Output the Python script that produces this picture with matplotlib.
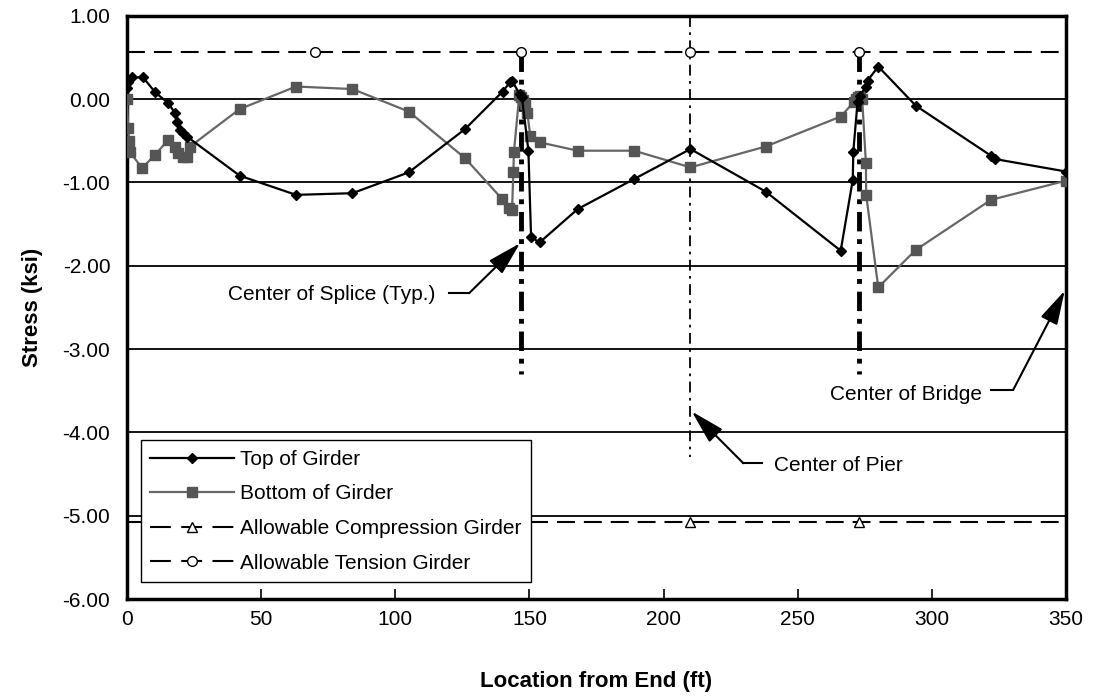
# girder stress along the bridge
import numpy as np
import matplotlib.pyplot as plt
from matplotlib.lines import Line2D
from matplotlib.ticker import FormatStrFormatter

plt.rcParams['font.family'] = ['Liberation Sans', 'DejaVu Sans']
plt.rcParams['axes.unicode_minus'] = False

# data (ft, ksi)
top_x = [0, 0.5, 2, 6, 10.5, 15.4, 17.9, 18.5, 19.8, 21, 22.3, 42, 63, 84, 105, 126,
         140, 142.7, 143.5, 146.3, 147.2, 149.6, 150.6, 153.8, 168, 189, 210, 238,
         266, 270.5, 270.7, 272.3, 273.2, 275.4, 276, 280, 294, 322, 323.5, 350]
top_y = [0.13, 0.2, 0.26, 0.26, 0.08, -0.05, -0.17, -0.27, -0.37, -0.41, -0.45, -0.92,
         -1.15, -1.13, -0.88, -0.36, 0.09, 0.2, 0.22, 0.06, 0.02, -0.62, -1.66, -1.72,
         -1.32, -0.96, -0.60, -1.11, -1.82, -0.97, -0.63, -0.03, 0.04, 0.15, 0.22, 0.39,
         -0.08, -0.68, -0.72, -0.87]

bot_x = [0, 0.4, 0.8, 1.2, 5.6, 10.4, 15.4, 17.9, 19.1, 21, 22.3, 23.5, 42, 63, 84,
         105, 126, 139.8, 142.3, 143.5, 144, 144.2, 146.2, 147, 147.6, 148.4, 149.2,
         150.3, 153.8, 168, 189, 210, 238, 266, 270.8, 271.8, 272.6, 273.3, 274,
         275.4, 275.5, 280, 294, 322, 350]
bot_y = [0.0, -0.35, -0.5, -0.64, -0.83, -0.67, -0.49, -0.57, -0.65, -0.69, -0.69,
         -0.57, -0.12, 0.15, 0.12, -0.15, -0.71, -1.2, -1.31, -1.33, -0.87, -0.64,
         0.05, 0.03, -0.01, -0.06, -0.17, -0.44, -0.52, -0.62, -0.62, -0.82, -0.57,
         -0.21, -0.04, 0.0, 0.02, 0.04, 0.0, -0.77, -1.15, -2.26, -1.81, -1.21, -0.98]

allow_comp = -5.07
allow_tens = 0.56
allow_mark_x = [70, 147, 210, 273]

splice_x = [147, 273]
splice_bottom = -3.3
pier_x = 210
pier_bottom = -4.3

fig = plt.figure(figsize=(10.97, 6.98), dpi=100)
ax = fig.add_axes([0.1158, 0.1418, 0.856, 0.8357])

ax.set_xlim(0, 350)
ax.set_ylim(-6, 1)

dash = (8.6, 4.3)

# gridlines
for g in np.arange(-6, 1.01, 1):
    ax.axhline(g, color='black', lw=1.3, zorder=1)

# allowable lines
ax.plot([0, 350], [allow_comp, allow_comp], color='black', lw=1.5, dashes=dash, zorder=2)
ax.plot([0, 350], [allow_tens, allow_tens], color='black', lw=1.5, dashes=dash, zorder=2)

# splice and pier marker lines
for sx in splice_x:
    ax.plot([sx, sx], [allow_tens, splice_bottom], color='black', lw=3.5,
            dashes=(4, 1.6, 1, 1.6), zorder=2)
ax.plot([pier_x, pier_x], [1, pier_bottom], color='black', lw=1.3,
        dashes=(6, 3, 1.5, 3), zorder=2)

ax.plot(allow_mark_x, [allow_comp] * len(allow_mark_x), ls='none', marker='^',
        ms=7, mfc='white', mec='black', mew=1.0, zorder=4)
ax.plot(allow_mark_x, [allow_tens] * len(allow_mark_x), ls='none', marker='o',
        ms=7, mfc='white', mec='black', mew=1.0, zorder=4)

# girder stresses
ax.plot(bot_x, bot_y, color='#666666', lw=1.6, marker='s', ms=7,
        mfc='#555555', mec='#555555', zorder=3)
ax.plot(top_x, top_y, color='black', lw=1.6, marker='D', ms=5,
        mfc='black', mec='black', zorder=3)

# annotations
arr = dict(arrowstyle='-|>,head_length=1.4,head_width=0.38', color='black',
           lw=1.5, mutation_scale=15, shrinkA=0, shrinkB=0)
fs = 15

ax.text(115, -2.35, 'Center of Splice (Typ.)', ha='right', va='center', fontsize=fs)
ax.plot([120, 127.5], [-2.33, -2.33], color='black', lw=1.5)
ax.annotate('', xy=(146.5, -1.73), xytext=(127.5, -2.33), arrowprops=arr)

ax.text(241, -4.40, 'Center of Pier', ha='left', va='center', fontsize=fs)
ax.plot([229.7, 236.5], [-4.37, -4.37], color='black', lw=1.5)
ax.annotate('', xy=(210.5, -3.75), xytext=(229.7, -4.37), arrowprops=arr)

ax.text(318.5, -3.55, 'Center of Bridge', ha='right', va='center', fontsize=fs)
ax.plot([322, 330.3], [-3.49, -3.49], color='black', lw=1.5)
ax.annotate('', xy=(349.5, -2.3), xytext=(330.3, -3.49), arrowprops=arr,
            annotation_clip=False)

# axes styling
for s in ax.spines.values():
    s.set_linewidth(2.5)
ax.set_xticks(np.arange(0, 351, 50))
ax.set_yticks(np.arange(-6, 1.01, 1))
ax.yaxis.set_major_formatter(FormatStrFormatter('%.2f'))
ax.tick_params(axis='x', direction='in', length=7, width=1.2, labelsize=15, pad=8)
ax.tick_params(axis='y', length=0, labelsize=15, pad=12)
ax.set_xlabel('Location from End (ft)', fontsize=16, fontweight='bold', labelpad=30)
ax.set_ylabel('Stress (ksi)', fontsize=16, fontweight='bold', labelpad=14)

leg_dash = (10, 5)
handles = [
    Line2D([], [], color='black', lw=1.6, marker='D', ms=5),
    Line2D([], [], color='#666666', lw=1.6, marker='s', ms=7, mfc='#555555', mec='#555555'),
    Line2D([], [], color='black', lw=1.5, dashes=leg_dash, marker='^', ms=7,
           mfc='white', mec='black'),
    Line2D([], [], color='black', lw=1.5, dashes=leg_dash, marker='o', ms=7,
           mfc='white', mec='black'),
]
labels = ['Top of Girder', 'Bottom of Girder', 'Allowable Compression Girder',
          'Allowable Tension Girder']
leg = ax.legend(handles, labels, loc='lower left', bbox_to_anchor=(0.0149, 0.029),
                borderaxespad=0, fontsize=15, frameon=True, fancybox=False,
                edgecolor='black', framealpha=1, handlelength=4.0,
                handletextpad=0.3, labelspacing=0.75, borderpad=0.45, numpoints=1)
leg.get_frame().set_linewidth(1.0)

plt.savefig('out.png', dpi=100)
